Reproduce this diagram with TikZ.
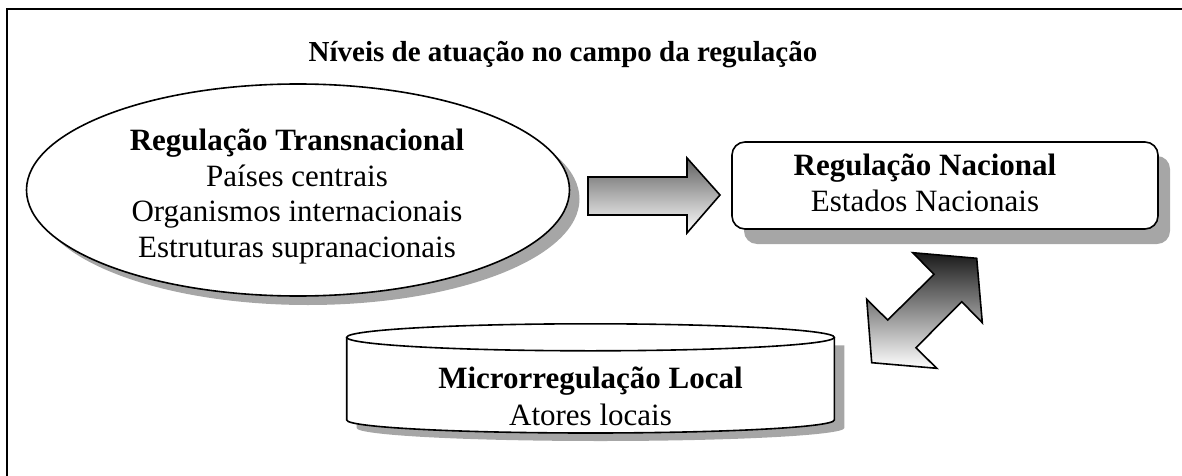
\documentclass[tikz,border=0pt]{standalone}
\usepackage{fontspec}
\setmainfont{Liberation Serif}
\usetikzlibrary{shapes.geometric}
\tikzset{
  shadowfill/.style={fill=black!35, draw=none},
  outline/.style={draw=black, line width=1.6pt, line join=miter},
  bigtxt/.style={font=\fontsize{31}{36}\selectfont, anchor=base, inner sep=0pt},
  bigbold/.style={font=\fontsize{31}{36}\selectfont\bfseries, anchor=base, inner sep=0pt},
  titletxt/.style={font=\fontsize{29}{34}\selectfont\bfseries, anchor=base, inner sep=0pt}
}
\begin{document}
\begin{tikzpicture}[x=1pt,y=-1pt]
\useasboundingbox (0,0) rectangle (1182,476);
% frame (only top and left visible)
\draw[line width=2.2pt] (7,476) -- (7,9) -- (1182,9);
% title
\node[titletxt] (title) at (563,61.5) {Níveis de atuação no campo da regulação};

% ellipse with shadow
\fill[shadowfill] (308,199) ellipse [x radius=271.5, y radius=106];
\draw[outline, fill=white] (298,190) ellipse [x radius=271.5, y radius=106];
\node[bigbold] (t1) at (297,150.5) {Regulação Transnacional};
\node[bigtxt] (t2) at (297,186) {Países centrais};
\node[bigtxt] (t3) at (297,221.7) {Organismos internacionais};
\node[bigtxt] (t4) at (297,257.3) {Estruturas supranacionais};

% right block arrow
\shade[top color=black!62, bottom color=white, draw=black, line width=1.6pt]
  (588,177) -- (687,177) -- (687,158) -- (720,195) -- (687,233) -- (687,215) -- (588,215) -- cycle;

% rounded rectangle with shadow
\fill[shadowfill, rounded corners=13pt] (744,156) rectangle (1170,244);
\draw[outline, fill=white, rounded corners=13pt] (732,142) rectangle (1158,229);
\node[bigbold] (n1) at (925,175) {Regulação Nacional};
\node[bigtxt] (n2) at (925,211) {Estados Nacionais};

% double diagonal block arrow
\shade[top color=black!90, bottom color=white, draw=black, line width=1.6pt]
  (976.7,258.3) -- (982.3,322.7) -- (961.7,301.7) -- (916,347.7) -- (936.7,368.3)
  -- (871.7,362.7) -- (866.7,299.3) -- (887.7,320) -- (934,274.3) -- (912.7,252.7) -- cycle;

% cylinder with shadow
\fill[shadowfill] (356.7,345.3) -- (844.3,345.3) -- (844.3,428)
  arc[start angle=0, end angle=180, x radius=243.8, y radius=13] -- cycle;
\fill[white] (346.7,337.3) -- (834.3,337.3) -- (834.3,420)
  arc[start angle=0, end angle=180, x radius=243.8, y radius=13] -- cycle;
\draw[outline] (346.7,337.3) -- (346.7,420)
  arc[start angle=180, end angle=0, x radius=243.8, y radius=13] -- (834.3,337.3);
\draw[outline, fill=white] (590.5,337.3) ellipse [x radius=243.8, y radius=13.5];
\node[bigbold] (c1) at (590.5,388.3) {Microrregulação Local};
\node[bigtxt] (c2) at (590.5,425) {Atores locais};
\end{tikzpicture}
\end{document}
